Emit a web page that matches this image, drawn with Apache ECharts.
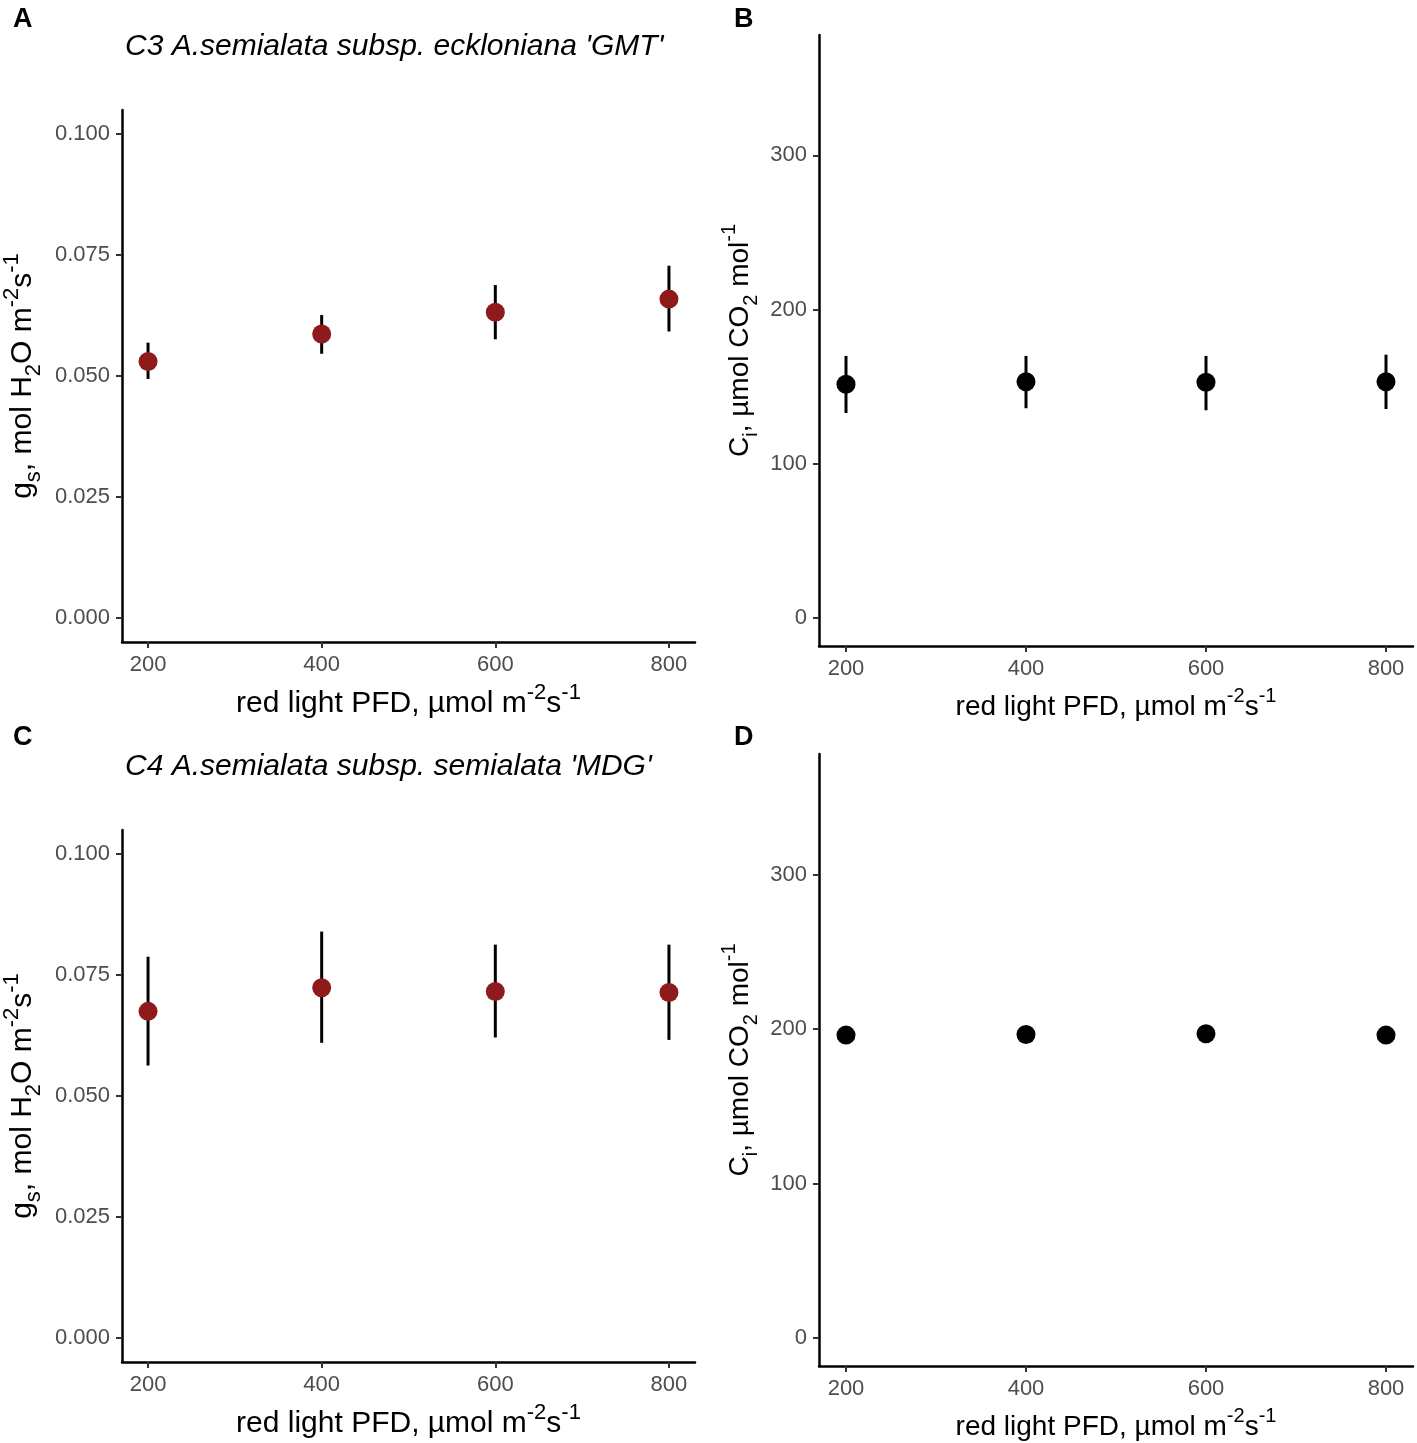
<!DOCTYPE html>
<html><head><meta charset="utf-8">
<script src="https://cdn.jsdelivr.net/npm/echarts@6/dist/echarts.min.js"></script>
<style>html,body{margin:0;padding:0;background:#fff}#c{width:1417px;height:1443px}</style>
</head><body><div id="c"></div>
<script>
// ---- data ----
const lightPFD = [200, 400, 600, 800];
const xTicks = [200, 400, 600, 800];
const gsTicks = [0, 0.025, 0.05, 0.075, 0.1];
const ciTicks = [0, 100, 200, 300];

const gsC3 = [0.0530, 0.0587, 0.0632, 0.0659];
const gsC3Lo = [0.0494, 0.0546, 0.0576, 0.0592];
const gsC3Hi = [0.0569, 0.0626, 0.0688, 0.0728];

const ciC3 = [151.6, 153.3, 152.9, 153.3];
const ciC3Lo = [133.0, 136.1, 134.8, 135.6];
const ciC3Hi = [170.0, 170.0, 170.0, 170.8];

const gsC4 = [0.0675, 0.0724, 0.0716, 0.0714];
const gsC4Lo = [0.0563, 0.0610, 0.0621, 0.0616];
const gsC4Hi = [0.0788, 0.0840, 0.0813, 0.0813];

const ciC4 = [196.1, 196.5, 197.0, 196.1];

const titleC3 = "C3 A.semialata subsp. eckloniana 'GMT'";
const titleC4 = "C4 A.semialata subsp. semialata 'MDG'";

// ---- styles ----
const FONT = '"Liberation Sans", Arial, sans-serif';
function richSet(size, color) {
  const s = Math.round(size * 0.72);
  return {
    n: {fontSize: size, fontFamily: FONT, color: color, lineHeight: size + 14, verticalAlign: 'middle'},
    sup: {fontSize: s, fontFamily: FONT, color: color, lineHeight: s + 2, verticalAlign: 'top'},
    sub: {fontSize: s, fontFamily: FONT, color: color, lineHeight: s + 2, verticalAlign: 'bottom'}
  };
}
const xName = '{n|red light PFD, µmol m}{sup|-2}{n|s}{sup|-1}';
const gsName = '{n|g}{sub|s}{n|, mol H}{sub|2}{n|O m}{sup|-2}{n|s}{sup|-1}';
const ciName = '{n|C}{sub|i}{n|, µmol CO}{sub|2}{n| mol}{sup|-1}';

function xAxis(gi, nameSize, gap) {
  return {
    type: 'value', gridIndex: gi, min: 170, max: 830,
    name: xName, nameLocation: 'middle', nameGap: gap,
    nameTextStyle: {rich: richSet(nameSize, '#000')},
    axisLine: {show: true, onZero: false, lineStyle: {color: '#000', width: 2.5}},
    axisTick: {show: true, length: 6, customValues: xTicks, lineStyle: {color: '#333', width: 2}},
    axisLabel: {customValues: xTicks, fontSize: 22, fontFamily: FONT, color: '#4D4D4D', margin: 12},
    splitLine: {show: false}
  };
}
function yAxis(gi, min, max, ticks, name, nameSize, gap, fmt) {
  return {
    type: 'value', gridIndex: gi, min: min, max: max,
    name: name, nameLocation: 'middle', nameGap: gap, nameRotate: 90,
    nameTextStyle: {rich: richSet(nameSize, '#000')},
    axisLine: {show: true, onZero: false, lineStyle: {color: '#000', width: 2.5}},
    axisTick: {show: true, length: 6, customValues: ticks, lineStyle: {color: '#333', width: 2}},
    axisLabel: {customValues: ticks, fontSize: 22, fontFamily: FONT, color: '#4D4D4D', margin: 12, formatter: fmt},
    splitLine: {show: false}
  };
}
function errRender(params, api) {
  const x = api.value(0), lo = api.value(1), hi = api.value(2);
  const p1 = api.coord([x, lo]), p2 = api.coord([x, hi]);
  return {type: 'line', shape: {x1: p1[0], y1: p1[1], x2: p2[0], y2: p2[1]},
          style: {stroke: '#000', lineWidth: 3}};
}
function errSeries(gi, lo, hi) {
  return {type: 'custom', xAxisIndex: gi, yAxisIndex: gi, renderItem: errRender,
          encode: {x: 0, y: [1, 2]}, z: 1, silent: true,
          data: lightPFD.map((x, i) => [x, lo[i], hi[i]])};
}
function ptSeries(gi, ys, color) {
  return {type: 'scatter', xAxisIndex: gi, yAxisIndex: gi, symbol: 'circle', symbolSize: 19,
          itemStyle: {color: color, opacity: 1}, z: 3, silent: true,
          data: lightPFD.map((x, i) => [x, ys[i]])};
}
const gsFmt = v => v.toFixed(3);
const ciFmt = v => String(v);
const RED = '#8E1A1C';
const LET = {fontSize: 27, fontWeight: 'bold', fontFamily: FONT, color: '#000'};
const TIT = {fontSize: 30, fontStyle: 'italic', fontWeight: 'normal', fontFamily: FONT, color: '#000'};

const option = {
  animation: false,
  backgroundColor: '#fff',
  title: [
    {text: 'A', left: 8, top: 1, textStyle: LET},
    {text: 'B', left: 729, top: 1, textStyle: LET},
    {text: 'C', left: 8, top: 719, textStyle: LET},
    {text: 'D', left: 729, top: 719, textStyle: LET},
    {text: titleC3, left: 120, top: 27, textStyle: TIT},
    {text: titleC4, left: 120, top: 747, textStyle: TIT}
  ],
  grid: [
    {left: 122, top: 110, width: 573, height: 532, outerBoundsMode: 'none'},
    {left: 819, top: 35, width: 594, height: 611, outerBoundsMode: 'none'},
    {left: 122, top: 830, width: 573, height: 532, outerBoundsMode: 'none'},
    {left: 819, top: 754, width: 594, height: 612, outerBoundsMode: 'none'}
  ],
  xAxis: [xAxis(0, 30, 40), xAxis(1, 28, 40), xAxis(2, 30, 40), xAxis(3, 28, 40)],
  yAxis: [
    yAxis(0, -0.005, 0.105, gsTicks, gsName, 30, 77, gsFmt),
    yAxis(1, -18, 378, ciTicks, ciName, 28, 58, ciFmt),
    yAxis(2, -0.005, 0.105, gsTicks, gsName, 30, 77, gsFmt),
    yAxis(3, -18, 378, ciTicks, ciName, 28, 58, ciFmt)
  ],
  series: [
    errSeries(0, gsC3Lo, gsC3Hi), ptSeries(0, gsC3, RED),
    errSeries(1, ciC3Lo, ciC3Hi), ptSeries(1, ciC3, '#000'),
    errSeries(2, gsC4Lo, gsC4Hi), ptSeries(2, gsC4, RED),
    ptSeries(3, ciC4, '#000')
  ]
};
echarts.init(document.getElementById('c')).setOption(option);
</script></body></html>
